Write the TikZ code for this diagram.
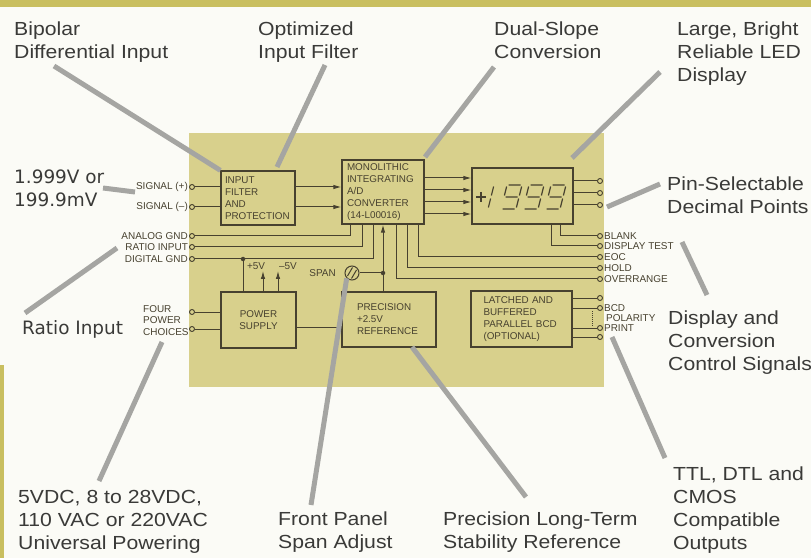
\documentclass[tikz,border=0pt]{standalone}
\usepackage{fontspec}
\setmainfont{Liberation Sans}
\newfontfamily\calfont[FakeStretch=1.12]{Liberation Sans}
\newfontfamily\bigfnt{DejaVu Sans}
\usetikzlibrary{arrows.meta,shadows}
\definecolor{bgc}{HTML}{FBFBF6}
\definecolor{bandc}{HTML}{C9BF60}
\definecolor{panelc}{HTML}{D8D08C}
\definecolor{wirec}{HTML}{47412F}
\definecolor{callc}{HTML}{A5A5A2}
\definecolor{txtc}{HTML}{3A3A38}
\newcommand\boxfnt{\fontsize{9.9}{12}\selectfont}
\newcommand\pinfnt{\fontsize{10}{11.5}\selectfont}
\newcommand\calfnt{\calfont\fontsize{19}{23}\selectfont}
\newcommand\bigfntsz{\bigfnt\fontsize{18.5}{23}\selectfont}
\newcommand\sevnine{\draw[seg] (1.5,-24)--(13.5,-24) (0,-22.5)--(0,-13.5) (15,-22.5)--(15,-13.5) (1.5,-12)--(13.5,-12) (15,-10.5)--(15,-1.5) (1.5,0)--(13.5,0);}
\tikzset{
  wire/.style={draw=wirec, line width=1bp},
  arr/.style={wire, -{Latex[length=8bp,width=4.5bp]}},
  pinc/.style={circle, draw=wirec, fill=panelc, line width=0.9bp, inner sep=0pt, minimum size=5bp},
  pinlab/.style={font=\pinfnt, text=wirec, inner sep=1pt},
  box/.style={draw=wirec, line width=1.2bp, fill=panelc, font=\boxfnt, text=wirec, inner ysep=0pt,
              drop shadow={shadow xshift=1.3bp, shadow yshift=-1.3bp, opacity=0.45}},
  dotc/.style={circle, fill=wirec, inner sep=0pt, minimum size=4.5bp},
  seg/.style={draw=wirec, line width=1.2bp},
  callout/.style={draw=callc, line width=5bp},
  callab/.style={font=\calfnt, text=txtc, align=left, inner sep=0pt, anchor=north west},
  biglab/.style={font=\bigfntsz, text=txtc, align=left, inner sep=0pt, anchor=north west},
}
\begin{document}
\begin{tikzpicture}[x=1bp,y=-1bp]
\useasboundingbox (0,0) rectangle (811,558);
\fill[bgc] (0,0) rectangle (811,558);
\fill[bandc] (0,0) rectangle (811,7);
\fill[bandc] (0,365) rectangle (4,558);
\fill[panelc] (189,133) rectangle (604,387);

% blocks
\node[box, minimum width=74bp, minimum height=54bp, inner xsep=4bp, text width=66bp, align=left] (filter) at (258,198) {INPUT\\FILTER\\AND\\PROTECTION};
\node[box, minimum width=82bp, minimum height=64bp, inner xsep=5bp, text width=72bp, align=left] (adc) at (383,192) {MONOLITHIC\\INTEGRATING\\A/D\\CONVERTER\\(14-L00016)};
\node[box, minimum width=101bp, minimum height=56bp] (disp) at (522.5,196) {};
\node[box, minimum width=75bp, minimum height=56bp, align=center] (psu) at (258.5,320) {POWER\\SUPPLY};
\node[box, minimum width=94bp, minimum height=55bp, inner xsep=15bp, text width=64bp, align=left] (ref) at (389,319.5) {PRECISION\\+2.5V\\REFERENCE};
\node[box, minimum width=101bp, minimum height=56bp, inner xsep=12.5bp, text width=76bp, align=left] (bcd) at (521.5,319) {LATCHED AND\\BUFFERED\\PARALLEL BCD\\(OPTIONAL)};

% display digits
\draw[seg] (476,197)--(486,197) (481,192)--(481,202);
\begin{scope}[shift={(488,209)}, xslant=0.25]
  \draw[seg] (0,-22.5)--(0,-13.5) (0,-10.5)--(0,-1.5);
\end{scope}
\begin{scope}[shift={(501,209)}, xslant=0.25]\sevnine\end{scope}
\begin{scope}[shift={(523,209)}, xslant=0.25]\sevnine\end{scope}
\begin{scope}[shift={(545,209)}, xslant=0.25]\sevnine\end{scope}

% left pins
\node[pinc, label={[pinlab]left:SIGNAL (+)}] (sp) at (192,187) {};
\node[pinc, label={[pinlab]left:SIGNAL (--)}] (sm) at (192,207) {};
\node[pinc, label={[pinlab]left:ANALOG GND}] (agnd) at (192,236) {};
\node[pinc, label={[pinlab]left:RATIO INPUT}] (ratio) at (192,247) {};
\node[pinc, label={[pinlab]left:DIGITAL GND}] (dgnd) at (192,259) {};
\node[pinc] (pw1) at (192,312) {};
\node[pinc] (pw2) at (192,329) {};
\node[pinlab, align=left, anchor=north west, inner sep=0pt] (fourlab) at (143,305) {FOUR\\POWER\\CHOICES};

% right pins
\node[pinc] (d1) at (600,181) {};
\node[pinc] (d2) at (600,193) {};
\node[pinc] (d3) at (600,205) {};
\node[pinc, label={[pinlab]right:BLANK}] (blank) at (600,236) {};
\node[pinc, label={[pinlab]right:DISPLAY TEST}] (dtest) at (600,246) {};
\node[pinc, label={[pinlab]right:EOC}] (eoc) at (600,257) {};
\node[pinc, label={[pinlab]right:HOLD}] (hold) at (600,268) {};
\node[pinc, label={[pinlab]right:OVERRANGE}] (ovr) at (600,279) {};
\node[pinc] (b1) at (600,298) {};
\node[pinc, label={[pinlab]right:BCD}] (b2) at (600,308) {};
\node[pinc, label={[pinlab]right:PRINT}] (b3) at (600,328) {};
\node[pinc] (b4) at (600,337) {};
\node[pinlab, anchor=west] (pollab) at (605,318) {POLARITY};

% wires
\draw[wire] (sp) -- (sp -| filter.west);
\draw[wire] (sm) -- (sm -| filter.west);
\draw[arr] (sp -| filter.east) -- (sp -| adc.west);
\draw[arr] (sm -| filter.east) -- (sm -| adc.west);
\foreach \yy in {178,190,202,214} \draw[arr] (adc.east |- 0,\yy) -- (disp.west |- 0,\yy);
\foreach \p in {d1,d2,d3} \draw[wire] (\p -| disp.east) -- (\p);
\draw[wire] (disp.south -| 560,0) |- (blank);
\draw[wire] (disp.south -| 551,0) |- (dtest);
\draw[wire] (adc.south -| 418,0) |- (eoc);
\draw[wire] (adc.south -| 407,0) |- (hold);
\draw[wire] (adc.south -| 396,0) |- (ovr);
\draw[wire] (agnd) -| (adc.south -| 350,0);
\draw[wire] (ratio) -| (adc.south -| 362,0);
\draw[wire] (dgnd) -| (adc.south -| 373,0);
\node[dotc] (j1) at (243,259) {};
\draw[wire] (j1) -- (j1 |- psu.north);
\draw[arr] (psu.north -| 263,0) -- (263,271);
\draw[arr] (psu.north -| 278,0) -- (278,271);
\node[pinlab] (l5p) at (256,266) {+5V};
\node[pinlab] (l5m) at (288,266) {--5V};
\draw[arr] (ref.north -| 383,0) -- (adc.south -| 383,0);
\node[dotc] (j2) at (383,273) {};
\node[circle, draw=wirec, line width=1bp, minimum size=14bp, inner sep=0pt, fill=panelc] (pot) at (352,273) {};
\draw[wire] ([shift={(-4.5,3)}]pot.center) -- ([shift={(0.5,-5.5)}]pot.center);
\draw[wire] ([shift={(-0.5,5.5)}]pot.center) -- ([shift={(4.5,-3)}]pot.center);
\draw[wire] (pot) -- (j2);
\node[pinlab, anchor=east] (spanlab) at (337,273) {SPAN};
\draw[wire] (psu.east |- 0,327) -- (ref.west |- 0,327);
\draw[wire] (pw1) -- (pw1 -| psu.west);
\draw[wire] (pw2) -- (pw2 -| psu.west);
\foreach \p in {b1,b2,b3,b4} \draw[wire] (\p -| bcd.east) -- (\p);
\draw[wire, densely dotted] (592,311) -- (592,325);

% callout labels
\node[callab] (t1) at (14,22) {Bipolar\\Differential Input};
\node[callab] (t2) at (258,22) {Optimized\\Input Filter};
\node[callab] (t3) at (494,22) {Dual-Slope\\Conversion};
\node[callab] (t4) at (677,22) {Large, Bright\\Reliable LED\\Display};
\node[biglab] (t5) at (14,170) {1.999V or\\199.9mV};
\node[callab] (t6) at (667,177) {Pin-Selectable\\Decimal Points};
\node[biglab] (t7) at (22,320) {Ratio Input};
\node[callab] (t8) at (668,311) {Display and\\Conversion\\Control Signals};
\node[callab] (t9) at (673,467) {TTL, DTL and\\CMOS\\Compatible\\Outputs};
\node[callab] (t10) at (18,490) {5VDC, 8 to 28VDC,\\110 VAC or 220VAC\\Universal Powering};
\node[callab] (t11) at (278,512) {Front Panel\\Span Adjust};
\node[callab] (t12) at (443,512) {Precision Long-Term\\Stability Reference};

% callout lines
\coordinate (c1) at (54,66);
\coordinate (c2) at (325,65);
\coordinate (c2e) at (277,167);
\coordinate (c3) at (494,67);
\coordinate (c3e) at (425,157);
\coordinate (c4) at (660,72);
\coordinate (c4e) at (572,158);
\coordinate (c5) at (660,184);
\coordinate (c5e) at (607,207);
\coordinate (c6) at (103,188);
\coordinate (c6e) at (135,192);
\coordinate (c7) at (25,313);
\coordinate (c7e) at (117,248);
\coordinate (c8) at (682,242);
\coordinate (c8e) at (707,295);
\coordinate (c9) at (612,337);
\coordinate (c9e) at (665,458);
\coordinate (c10) at (162,342);
\coordinate (c10e) at (99,481);
\coordinate (c11e) at (311,505);
\coordinate (c12) at (412,347);
\coordinate (c12e) at (526,497);
\draw[callout] (c1) -- (filter.north west);
\draw[callout] (c2) -- (c2e);
\draw[callout] (c3) -- (c3e);
\draw[callout] (c4) -- (c4e);
\draw[callout] (c5) -- (c5e);
\draw[callout] (c6) -- (c6e);
\draw[callout] (c7) -- (c7e);
\draw[callout] (c8) -- (c8e);
\draw[callout] (c9) -- (c9e);
\draw[callout] (c10) -- (c10e);
\draw[callout] (pot.south west) -- (c11e);
\draw[callout] (c12) -- (c12e);
\end{tikzpicture}
\end{document}
